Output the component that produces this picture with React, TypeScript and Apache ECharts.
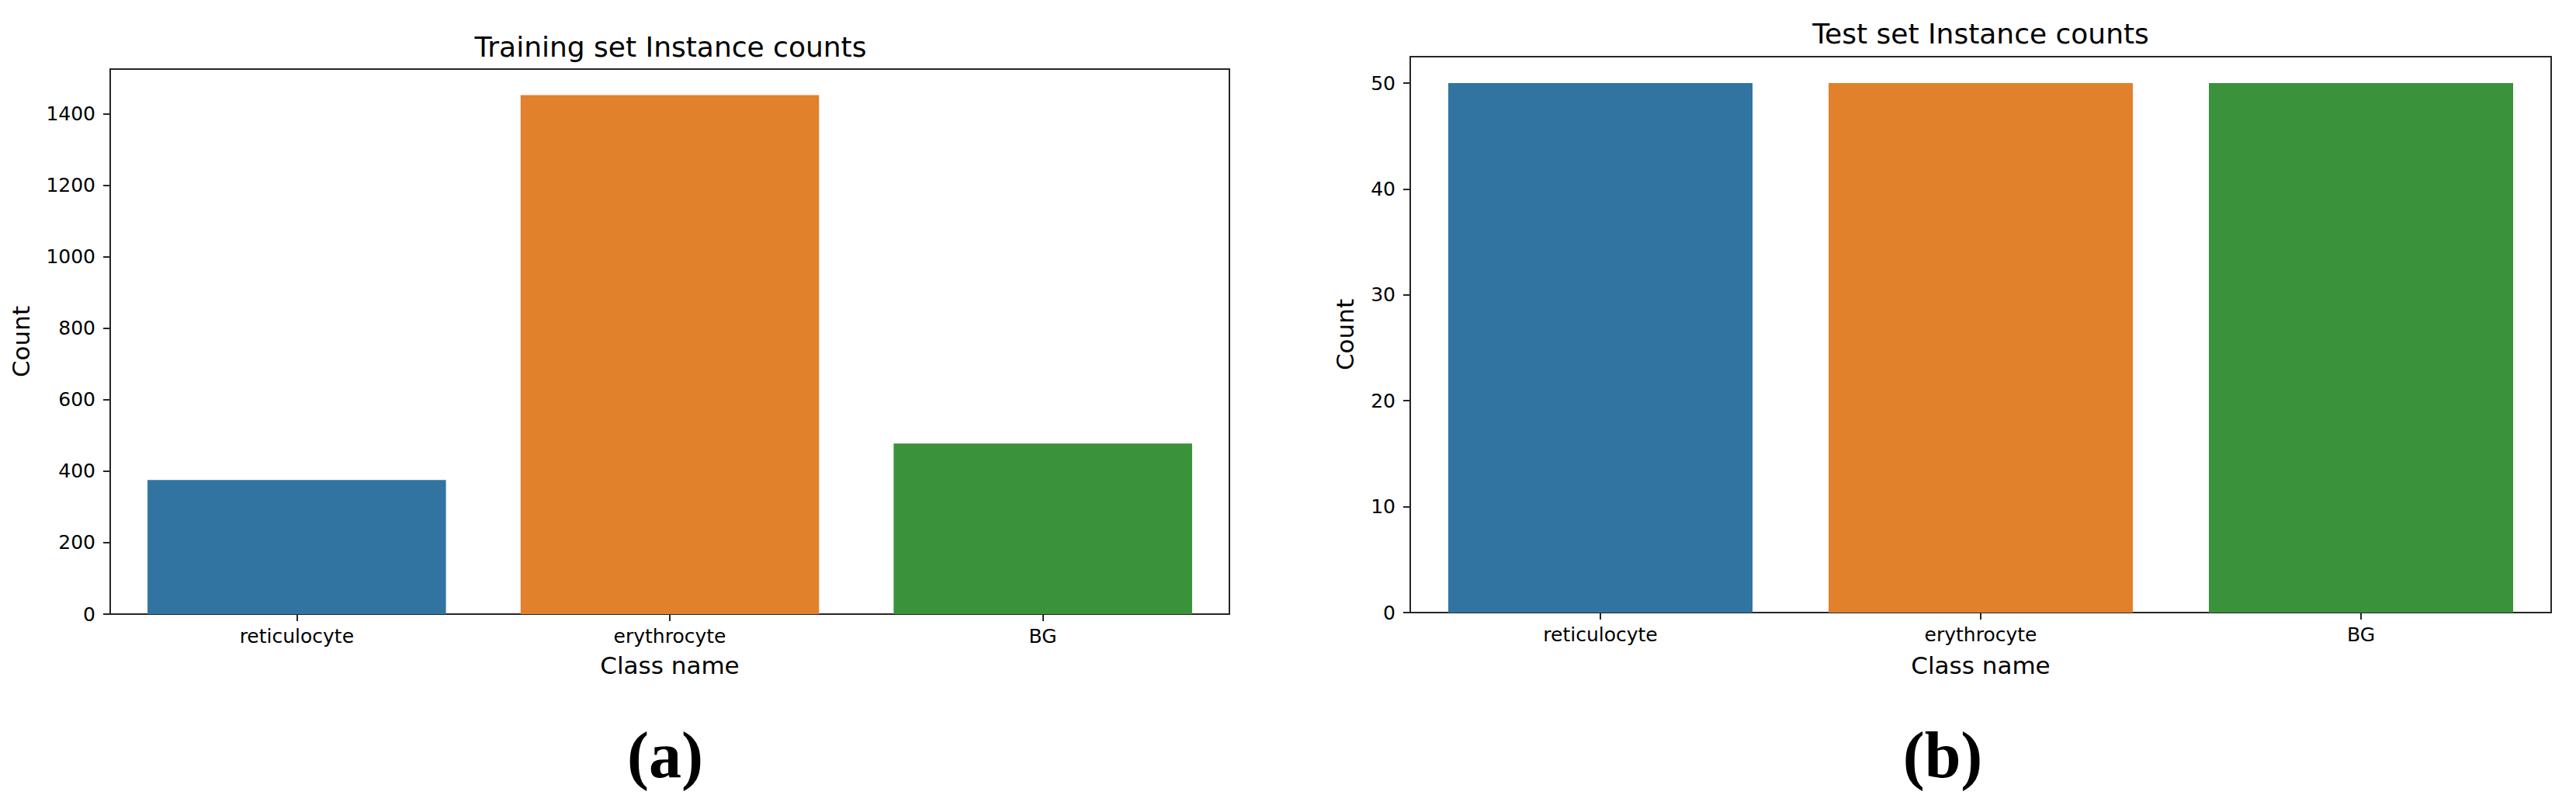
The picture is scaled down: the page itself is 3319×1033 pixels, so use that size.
import React, { useEffect, useRef } from "react";
import * as echarts from "echarts";

const classNames = ["reticulocyte", "erythrocyte", "BG"];
const trainCounts = [375, 1452, 477];
const testCounts = [50, 50, 50];
const barColors = ["#3274a1", "#e1812c", "#3a923a"];
const trainTicks = [0, 200, 400, 600, 800, 1000, 1200, 1400];
const testTicks = [0, 10, 20, 30, 40, 50];
const trainTitle = "Training set Instance counts";
const testTitle = "Test set Instance counts";
const xName = "Class name";
const yName = "Count";
const panelLabels = ["(a)", "(b)"];

const FONT = "DejaVu Sans";
const INK = "#262626";

function makeX(gridIndex: number, gap: number) {
  return {
    type: "category",
    gridIndex,
    data: classNames,
    name: xName,
    nameLocation: "middle",
    nameGap: gap,
    nameTextStyle: { fontFamily: FONT, fontSize: 31, color: "#000" },
    axisLine: { show: true, lineStyle: { color: INK, width: 2 } },
    axisTick: { show: true, alignWithLabel: true, length: 9, lineStyle: { color: INK, width: 2 } },
    axisLabel: { fontFamily: FONT, fontSize: 25, color: "#000", margin: 16 },
    splitLine: { show: false },
  };
}

function makeY(gridIndex: number, max: number, ticks: number[], gap: number) {
  return {
    type: "value",
    gridIndex,
    min: 0,
    max,
    name: yName,
    nameLocation: "middle",
    nameGap: gap,
    nameTextStyle: { fontFamily: FONT, fontSize: 31, color: "#000" },
    axisLine: { show: true, lineStyle: { color: INK, width: 2 } },
    axisTick: { show: true, length: 9, customValues: ticks, lineStyle: { color: INK, width: 2 } },
    axisLabel: {
      fontFamily: FONT,
      fontSize: 25,
      color: "#000",
      margin: 19,
      customValues: ticks,
      formatter: (v: number) => String(v),
    },
    splitLine: { show: false },
  };
}

export default function App() {
  const ref = useRef<HTMLDivElement>(null);
  useEffect(() => {
    document.body.style.margin = "0";
    if (!ref.current) return;
    const chart = echarts.init(ref.current, null, { renderer: "svg" });
    const trainMax = Math.max(...trainCounts) * 1.05;
    const testMax = Math.max(...testCounts) * 1.05;
    chart.setOption({
      animation: false,
      backgroundColor: "#fff",
      grid: [
        { left: 142, top: 89, width: 1442, height: 702, show: true, borderColor: INK, borderWidth: 2, backgroundColor: "transparent" },
        { left: 1817, top: 73, width: 1470, height: 716, show: true, borderColor: INK, borderWidth: 2, backgroundColor: "transparent" },
      ],
      xAxis: [makeX(0, 50), makeX(1, 52)],
      yAxis: [makeY(0, trainMax, trainTicks, 100), makeY(1, testMax, testTicks, 69)],
      series: [
        {
          type: "bar",
          xAxisIndex: 0,
          yAxisIndex: 0,
          barCategoryGap: "20%",
          data: trainCounts.map((v, i) => ({ value: v, itemStyle: { color: barColors[i] } })),
        },
        {
          type: "bar",
          xAxisIndex: 1,
          yAxisIndex: 1,
          barCategoryGap: "20%",
          data: testCounts.map((v, i) => ({ value: v, itemStyle: { color: barColors[i] } })),
        },
      ],
      graphic: [
        {
          type: "text",
          x: 864,
          y: 60,
          style: { text: trainTitle, font: `36px '${FONT}'`, fill: "#000", align: "center", verticalAlign: "middle" },
        },
        {
          type: "text",
          x: 2552,
          y: 43,
          style: { text: testTitle, font: `36px '${FONT}'`, fill: "#000", align: "center", verticalAlign: "middle" },
        },
        {
          type: "text",
          x: 857,
          y: 972,
          style: { text: panelLabels[0], font: `bold 84px 'Liberation Serif'`, fill: "#000", align: "center", verticalAlign: "middle" },
        },
        {
          type: "text",
          x: 2503,
          y: 972,
          style: { text: panelLabels[1], font: `bold 84px 'Liberation Serif'`, fill: "#000", align: "center", verticalAlign: "middle" },
        },
      ],
    });
    return () => chart.dispose();
  }, []);
  return <div ref={ref} style={{ width: 3319, height: 1033 }} />;
}
